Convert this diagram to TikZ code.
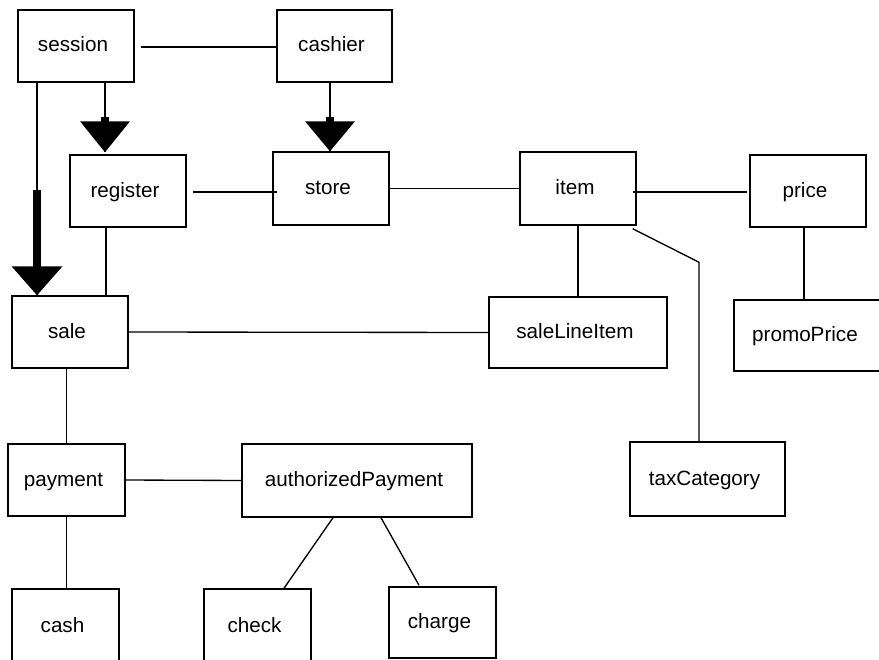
\documentclass[tikz,border=0pt]{standalone}
\usepackage{fontspec}
\setmainfont{Liberation Sans}
\usetikzlibrary{calc}
\begin{document}
\begin{tikzpicture}[x=0.75pt,y=-0.75pt,
  box/.style={draw, line width=1.1pt, rectangle, inner sep=0pt, minimum width=87pt, minimum height=54pt, label={[lbl]center:#1}},
  lbl/.style={font=\fontsize{15.5pt}{19pt}\selectfont, text height=7pt, text depth=1pt, xshift=-2.25pt, yshift=-1.5pt, inner sep=0pt},
  conn/.style={line width=1pt},
  shaft/.style={line width=6pt},
  head/.style={fill=black}]
\useasboundingbox (0,0) rectangle (879,660);

% boxes
\node[box=session] (session) at (76,46) {};
\node[box=cashier, minimum width=86.25pt] (cashier) at (334.5,46) {};
\node[box=register] (register) at (128,191) {};
\node[box=store, minimum height=54.75pt] (store) at (331,188.5) {};
\node[box=item, minimum height=54.75pt] (item) at (578,188.5) {};
\node[box=price] (price) at (808,191) {};
\node[box=sale] (sale) at (70,332) {};
\node[box=saleLineItem, minimum width=133.5pt, minimum height=53.25pt] (saleLineItem) at (578,332.5) {};
\node[box=promoPrice, minimum width=111pt, minimum height=53.25pt] (promoPrice) at (808,335.5) {};
\node[box=taxCategory, minimum width=116.25pt, minimum height=55.5pt] (taxCategory) at (707.5,479) {};
\node[box=payment, minimum width=87.75pt] (payment) at (66.5,480) {};
\node[box=authorizedPayment, minimum width=172.5pt, minimum height=54.75pt] (authorizedPayment) at (357,480.5) {};
\node[box=cash, minimum width=80.25pt, minimum height=55.5pt] (cash) at (65.5,626) {};
\node[box=check, minimum width=80.25pt, minimum height=55.5pt] (check) at (257.5,626) {};
\node[box=charge, minimum width=80.25pt, minimum height=53.25pt] (charge) at (442.5,622.5) {};

% plain connectors
\draw[conn] ($(session.east)+(6,1)$) -- ($(cashier.west)+(0,1)$);
\draw[conn] ($(register.east)+(6,1)$) -- ($(store.west)+(5,3.5)$);
\draw[conn] (store.west -| store.east) -- (item.west);
\draw[conn] ($(item.east)+(-4,3.5)$) -- ($(price.west)+(-2,1)$);
\draw[conn] (item.south) -- (item.south |- saleLineItem.north);
\coordinate (bend) at ($(taxCategory.north)+(-8.5,-179)$);
\draw[conn] ($(item.south east)+(-4,3)$) -- (bend) -- (bend |- taxCategory.north);
\draw[conn] ($(price.south)+(-4,0)$) -- ($(promoPrice.north)+(-4,0)$);
\draw[conn] (sale.east) -- (saleLineItem.west);
\draw[conn] ($(register.south)+(-22,0)$) -- ($(sale.north)+(36,0)$);
\draw[conn] (payment.north |- sale.south) -- (payment.north);
\draw[conn] (payment.east) -- (authorizedPayment.west);
\draw[conn] (payment.south) -- (payment.south |- cash.north);
\draw[conn] ($(authorizedPayment.south)+(-24,0)$) -- ($(check.north)+(26.5,0)$);
\draw[conn] ($(authorizedPayment.south)+(24,0)$) -- ($(charge.north)+(-23.5,-1)$);

% arrows
\coordinate (t1) at ($(register.north)+(-23,-2)$);
\draw[conn] (t1 |- session.south) -- (t1);
\draw[shaft] ($(t1)+(0,-35)$) -- ($(t1)+(0,-30)$);
\fill[head] (t1) -- ++(-25,-31) -- ++(50,0) -- cycle;

\coordinate (t2) at ($(store.north)+(-1,0)$);
\draw[conn] (t2 |- cashier.south) -- (t2);
\draw[shaft] ($(t2)+(0,-34)$) -- ($(t2)+(0,-29)$);
\fill[head] (t2) -- ++(-25,-30) -- ++(50,0) -- cycle;

\coordinate (t3) at ($(sale.north)+(-33,0)$);
\draw[conn] (t3 |- session.south) -- (t3);
\draw[shaft] ($(t3)+(0,-105)$) -- ($(t3)+(0,-28)$);
\fill[head] (t3) -- ++(-25.5,-29) -- ++(51,0) -- cycle;
\end{tikzpicture}
\end{document}
